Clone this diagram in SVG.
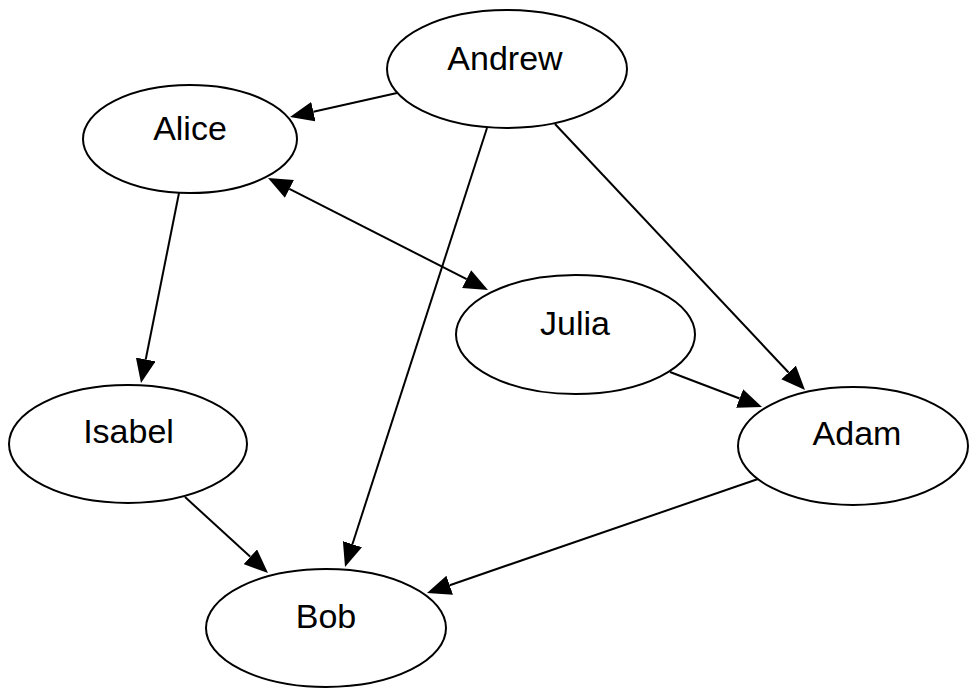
<svg xmlns="http://www.w3.org/2000/svg" width="969" height="688" viewBox="0 0 969 688">
<style>
.node ellipse{fill:#fff;stroke:#000;stroke-width:2}
.node text{font-family:"Liberation Sans",Arial,sans-serif;font-size:34px;fill:#000;text-anchor:middle}
.edge{stroke:#000;stroke-width:2;fill:none}
</style>
<defs>
<marker id="arr" viewBox="0 -10 24 20" refX="0" refY="0" markerWidth="24" markerHeight="20" markerUnits="userSpaceOnUse" orient="auto-start-reverse">
<path d="M0,-10 L24,0 L0,10 z" fill="#000"/>
</marker>
</defs>
<rect width="969" height="688" fill="#fff"/>
<g id="connectors">
<line class="edge" x1="397" y1="93" x2="313.4" y2="111.7" marker-end="url(#arr)"/>
<line class="edge" x1="487" y1="128" x2="352.4" y2="544.2" marker-end="url(#arr)"/>
<line class="edge" x1="555" y1="124" x2="788.6" y2="372.5" marker-end="url(#arr)"/>
<line class="edge" x1="289.4" y1="188.9" x2="466.6" y2="279.1" marker-start="url(#arr)" marker-end="url(#arr)"/>
<line class="edge" x1="179" y1="193" x2="145.7" y2="359.5" marker-end="url(#arr)"/>
<line class="edge" x1="185" y1="497" x2="250.3" y2="556.8" marker-end="url(#arr)"/>
<line class="edge" x1="670" y1="372" x2="739.6" y2="398.5" marker-end="url(#arr)"/>
<line class="edge" x1="758" y1="479" x2="449.7" y2="585.2" marker-end="url(#arr)"/>
</g>
<g id="node-andrew" class="node"><ellipse cx="507" cy="69" rx="120" ry="59"/><text x="505" y="70">Andrew</text></g>
<g id="node-alice" class="node"><ellipse cx="190" cy="139" rx="107" ry="54"/><text x="190" y="140">Alice</text></g>
<g id="node-julia" class="node"><ellipse cx="575.5" cy="334.5" rx="119.5" ry="59.5"/><text x="575" y="335">Julia</text></g>
<g id="node-adam" class="node"><ellipse cx="853" cy="446" rx="115" ry="59"/><text x="857" y="445">Adam</text></g>
<g id="node-isabel" class="node"><ellipse cx="128" cy="444" rx="119" ry="59"/><text x="128.5" y="443">Isabel</text></g>
<g id="node-bob" class="node"><ellipse cx="326" cy="628" rx="120" ry="59"/><text x="326" y="628">Bob</text></g>
</svg>
